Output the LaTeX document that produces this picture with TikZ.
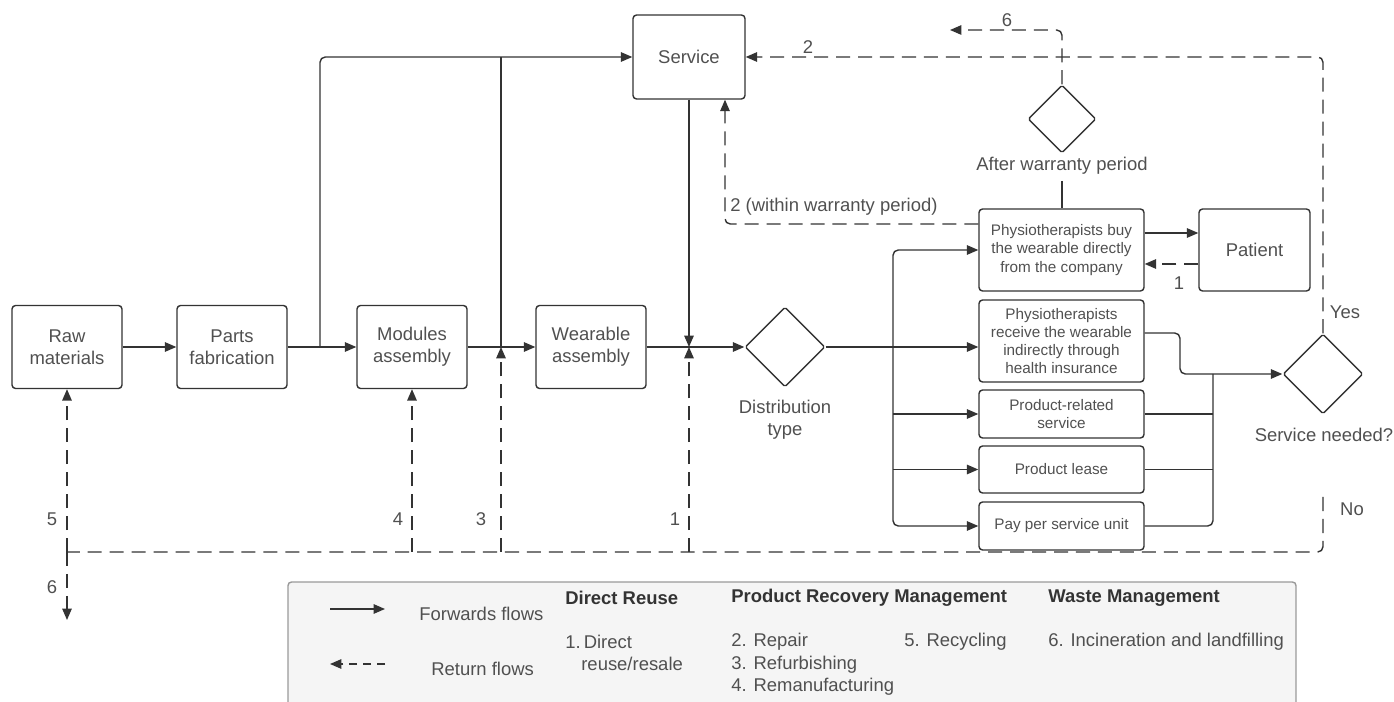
\documentclass[tikz,border=0pt]{standalone}
\usepackage{fontspec}
\setmainfont{Liberation Sans}
\usetikzlibrary{shapes.geometric, arrows.meta, calc}

\definecolor{linegray}{HTML}{333333}
\definecolor{textgray}{HTML}{505050}
\definecolor{legendbg}{HTML}{F5F5F5}

\begin{document}
\begin{tikzpicture}[
    x=0.02cm, y=-0.02cm,
    every node/.style={text=textgray, font=\fontsize{10.5}{12.5}\selectfont, align=center},
    box/.style={draw=linegray, line width=0.8pt, rounded corners=2pt,
                minimum width=2.2cm, minimum height=1.66cm, inner sep=2pt},
    smallbox/.style={box, font=\fontsize{8.7}{10.4}\selectfont, minimum width=3.3cm},
    decision/.style={draw=linegray, line width=0.8pt, shape=diamond, aspect=1,
                     minimum size=1.6cm, inner sep=0pt, rounded corners=1pt},
    link/.style={draw=linegray, line width=0.8pt},
    fwd/.style={link, -{Triangle[length=6.5pt, width=5.4pt]}},
    bwd/.style={fwd, dash pattern=on 8pt off 4.5pt},
    ret/.style={link, dash pattern=on 8pt off 4.5pt},
    legtxt/.style={anchor=west, inner sep=0pt, align=left},
    hdr/.style={legtxt, text=linegray, font=\fontsize{10.5}{12.5}\selectfont\bfseries}
]
    \useasboundingbox (0,0) rectangle (1394,702);

    % Production chain
    \node[box] (raw) at (67,347) {Raw\\materials};
    \node[box] (parts) at (232,347) {Parts\\fabrication};
    \node[box] (modules) at (412,347) {Modules\\assembly};
    \node[box] (wearable) at (591,347) {Wearable\\assembly};
    \node[box, minimum width=2.24cm, minimum height=1.68cm] (service) at (689,57) {Service};
    \node[decision] (dist) at (785,347) {};
    \node (distlbl) at (785,420) {Distribution\\type};

    % Distribution options
    \node[smallbox, minimum height=1.64cm] (buy) at (1061.5,250) {Physiotherapists buy\\the wearable directly\\from the company};
    \node[box, minimum width=2.22cm, minimum height=1.64cm] (patient) at (1254.5,250) {Patient};
    \node[smallbox, minimum height=1.64cm] (insur) at (1061.5,341) {Physiotherapists\\receive the wearable\\indirectly through\\health insurance};
    \node[smallbox, minimum height=0.96cm] (prodserv) at (1061.5,414) {Product-related\\service};
    \node[smallbox, minimum height=0.94cm] (lease) at (1061.5,469.5) {Product lease};
    \node[smallbox, minimum height=0.96cm] (pay) at (1061.5,526) {Pay per service unit};

    % Decisions
    \node[decision, minimum size=1.36cm] (warranty) at (1062,119) {};
    \node (wlbl) at (1062,166) {After warranty period};
    \node[decision] (needed) at (1323,374) {};
    \node (nlbl) at (1324,435) {Service needed?};

    % Junctions
    \coordinate (j1) at (320,347);
    \coordinate (j2) at (501,347);
    \coordinate (j3) at (689,347);
    \coordinate (jd) at (893,347);
    \coordinate (k1) at (1180,374);
    \coordinate (k2) at (1213,374);
    \coordinate (no) at (1323,497);
    \coordinate (b1) at (689,552);
    \coordinate (b3) at (501,552);
    \coordinate (b4) at (412,552);
    \coordinate (b5) at (67,552);
    \coordinate (waste) at (67,620);
    \coordinate (burn) at (950,30);

    % Forward flows
    \draw[fwd] (raw) -- (parts);
    \draw[link] (parts) -- (j1);
    \draw[fwd] (j1) -- (modules);
    \draw[fwd, rounded corners=3pt] (j1) |- (service);
    \draw[link] (modules) -- (j2);
    \draw[fwd] (j2) -- (wearable);
    \draw[link] (j2) -- (j2 |- service);
    \draw[link] (wearable) -- (j3);
    \draw[fwd] (service) -- (j3);
    \draw[fwd] (j3) -- (dist);
    \draw[link] (dist) -- (jd);
    \draw[fwd] (jd) -- (insur.west |- jd);
    \draw[fwd, rounded corners=3pt] (jd) |- (buy);
    \draw[fwd, rounded corners=3pt] (jd) |- (pay);
    \draw[fwd] (prodserv.west -| jd) -- (prodserv);
    \draw[fwd] (lease.west -| jd) -- (lease);
    \draw[fwd] ([yshift=0.34cm]buy.east) -- ([yshift=0.34cm]patient.west);
    \draw[link] (wlbl) -- (wlbl |- buy.north);
    \draw[fwd, rounded corners=3pt] ([yshift=0.16cm]insur.east) -| (k1) -- (needed);
    \draw[link, rounded corners=3pt] (pay.east) -| (k2);
    \draw[link] (prodserv.east) -- (prodserv.east -| k2);
    \draw[link] (lease.east) -- (lease.east -| k2);

    % Return flows
    \draw[bwd] ([yshift=-0.28cm]patient.west) -- ([yshift=-0.28cm]buy.east);
    \draw[bwd, rounded corners=3pt] ([yshift=0.52cm]buy.west) -| ([xshift=0.72cm]service.south);
    \draw[bwd, rounded corners=3pt] (needed) |- (service);
    \draw[bwd, rounded corners=3pt] (warranty) |- (burn);
    \draw[ret, rounded corners=3pt] (no) |- (b5);
    \draw[bwd] (b1) -- (j3);
    \draw[bwd] (b3) -- (j2);
    \draw[bwd] (b4) -- (b4 |- modules.south);
    \draw[bwd] (b5) -- (raw);
    \draw[bwd] (b5) -- (waste);

    % Flow numbers
    \node (n5) at (52,519) {5};
    \node (n6) at (52,587) {6};
    \node (n4) at (398,519) {4};
    \node (n3) at (481,519) {3};
    \node (n1) at (675,519) {1};
    \node (n2) at (808,47) {2};
    \node (n6top) at (1007,20) {6};
    \node (n1pat) at (1179,283) {1};
    \node[legtxt] (n2warr) at (730,207) {2 (within warranty period)};
    \node (yes) at (1345,312) {Yes};
    \node (nolbl) at (1352,509) {No};

    % Legend
    \fill[legendbg] (288,582) rectangle (1296,702);
    \draw[draw=gray!80, line width=0.8pt, rounded corners=2pt] (288,712) -- (288,582) -- (1296,582) -- (1296,712);
    \coordinate (lf1) at (330,609);
    \coordinate (lf2) at (385,609);
    \coordinate (lr1) at (385,664);
    \coordinate (lr2) at (330,664);
    \draw[fwd] (lf1) -- (lf2);
    \draw[bwd, dash pattern=on 4.5pt off 3.4pt] (lr1) -- (lr2);
    \node[legtxt] (lfwd) at (419,614) {Forwards flows};
    \node[legtxt] (lret) at (431,669) {Return flows};
    \node[hdr] (hdr1) at (565,598) {Direct Reuse};
    \node[legtxt] (d1) at (565,642) {1.\,Direct};
    \node[legtxt] (d1b) at (581,664) {reuse/resale};
    \node[hdr] (hdr2) at (731,598) {Product Recovery Management};
    \node[legtxt] (r2) at (731,642) {2. Repair};
    \node[legtxt] (r3) at (731,665) {3. Refurbishing};
    \node[legtxt] (r4) at (731,687) {4. Remanufacturing};
    \node[legtxt] (r5) at (904,642) {5. Recycling};
    \node[hdr] (hdr3) at (1048,598) {Waste Management};
    \node[legtxt] (w6) at (1048,642) {6. Incineration and landfilling};
\end{tikzpicture}
\end{document}
